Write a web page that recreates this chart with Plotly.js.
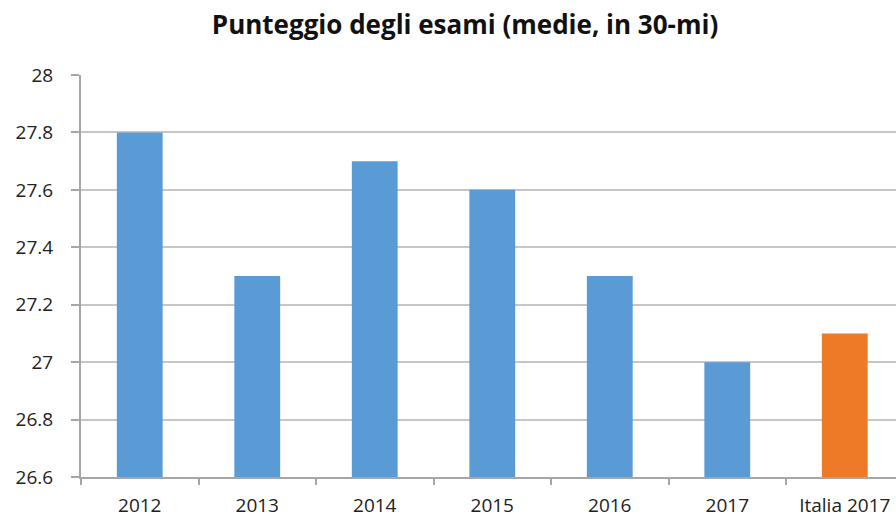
<!DOCTYPE html>
<html>
<head>
<meta charset="utf-8">
<script src="https://cdn.plot.ly/plotly-3.0.1.min.js"></script>
<style>html,body{margin:0;padding:0;background:#fff}#chart{width:896px;height:521px}</style>
</head>
<body>
<div id="chart"></div>
<script>
const categories = ["2012", "2013", "2014", "2015", "2016", "2017", "Italia 2017"];
const scores = [27.8, 27.3, 27.7, 27.6, 27.3, 27.0, 27.1];
const barColors = ["#5B9BD5", "#5B9BD5", "#5B9BD5", "#5B9BD5", "#5B9BD5", "#5B9BD5", "#EE7A28"];
const yTicks = [26.6, 26.8, 27, 27.2, 27.4, 27.6, 27.8, 28];
const yTickText = ["26.6", "26.8", "27", "27.2", "27.4", "27.6", "27.8", "28"];

const trace = {
  type: "bar",
  x: categories,
  y: scores,
  base: 26.6,
  width: 0.39,
  marker: { color: barColors, line: { width: 0 } },
  hovertemplate: "%{x}: %{y}<extra></extra>"
};
// with base 26.6, bar length = value - base
trace.y = scores.map(v => +(v - 26.6).toFixed(4));

const layout = {
  width: 896, height: 521,
  margin: { l: 81, r: 0, t: 75, b: 44 },
  paper_bgcolor: "#ffffff", plot_bgcolor: "#ffffff",
  font: { family: "Open Sans, Liberation Sans, sans-serif", color: "#222", size: 19 },
  title: {
    text: "<b>Punteggio degli esami (medie, in 30-mi)</b>",
    font: { size: 26, color: "#111" },
    x: 0.4712, xref: "paper", xanchor: "center",
    y: 0.952, yref: "container", yanchor: "middle"
  },
  showlegend: false,
  xaxis: {
    type: "category",
    range: [-0.5, 6.436],
    showgrid: false,
    showline: true, linecolor: "#a6a6a6", linewidth: 2,
    ticks: "outside", tickson: "boundaries", ticklen: 6, tickcolor: "#a6a6a6", tickwidth: 2,
    tickfont: { size: 19, color: "#222" },
    ticklabelstandoff: 10,
    zeroline: false
  },
  yaxis: {
    range: [26.6, 28],
    tickvals: yTicks,
    ticktext: yTickText,
    showgrid: true, gridcolor: "#c6c6c6", gridwidth: 2,
    showline: true, linecolor: "#a6a6a6", linewidth: 2,
    ticks: "outside", ticklen: 8, tickcolor: "#a6a6a6", tickwidth: 2,
    tickfont: { size: 19, color: "#222" },
    ticklabelstandoff: 14,
    zeroline: false
  }
};

Plotly.newPlot("chart", [trace], layout, { displayModeBar: false, staticPlot: true });
</script>
</body>
</html>
